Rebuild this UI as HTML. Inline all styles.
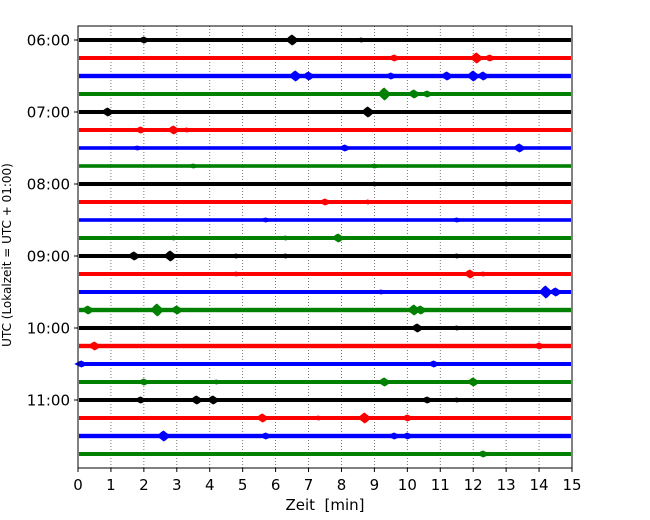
<!DOCTYPE html>
<html><head><meta charset="utf-8"><style>
body{margin:0;background:#fff;}
svg{display:block;font-family:"DejaVu Sans","Liberation Sans",sans-serif;}
</style></head><body>
<svg id="chart" width="650" height="520" viewBox="0 0 650 520">
<rect x="0" y="0" width="650" height="520" fill="#fff"/>
<g id="grid"></g>
<g id="traces"></g>
<rect x="78" y="26" width="494" height="442" fill="none" stroke="#000" stroke-width="1"/>
<g id="xaxis"></g>
<g id="yaxis"></g>
<text x="325" y="510" font-size="15" text-anchor="middle">Zeit&#160; [min]</text>
<text transform="translate(11,255) rotate(-90)" font-size="12" text-anchor="middle">UTC (Lokalzeit = UTC + 01:00)</text>
</svg>
<script>
const xTicks=[0,1,2,3,4,5,6,7,8,9,10,11,12,13,14,15];
const yLabels=["06:00","07:00","08:00","09:00","10:00","11:00"];
const rowColors=["#000000","#ff0000","#0000ff","#008000"];
const rowCount=24;
const noiseHalf=[2,2,2.2,2,2,2,1.8,1.8,2,2,1.8,2,2,2,2,2.2,2,2.2,2,2,2,2,2.2,2];
const eventRow=[0,0,0,1,1,1,2,2,2,2,2,2,3,3,3,4,4,5,5,5,6,6,6,7,7,8,8,9,9,10,10,11,11,11,12,12,12,12,12,13,13,13,14,14,14,15,15,15,15,15,16,16,17,17,18,18,19,19,19,19,20,20,20,20,20,21,21,21,21,22,22,22,22,23];
const eventMin=[2.0,6.5,8.6,9.6,12.1,12.5,6.6,7.0,9.5,11.2,12.0,12.3,9.3,10.2,10.6,0.9,8.8,1.9,2.9,3.3,1.8,8.1,13.4,3.5,9.0,9.0,13.0,7.5,8.8,5.7,11.5,2.9,7.9,6.3,1.7,2.8,4.8,6.3,11.5,4.8,11.9,12.3,9.2,14.2,14.5,0.3,2.4,3.0,10.2,10.4,10.3,11.5,0.5,14.0,0.1,10.8,2.0,4.2,9.3,12.0,1.9,3.6,4.1,10.6,11.5,5.6,7.3,8.7,10.0,2.6,5.7,9.6,10.0,12.3];
const eventAmp=[3,5,2,3,5,3,5,4,3,4,5,4,6,4,3,4,5,3,4,2,2,3,4,2,2,2,2,3,2,2,2,2,4,2,4,5,2,2,2,2,4,2,2,6,4,4,6,4,5,4,4,2,4,3,3,3,3,2,4,4,3,4,4,3,2,4,2,5,3,5,3,3,3,3];
const ns="http://www.w3.org/2000/svg";
const X0=78,X1=572,Ytop=26,Ybot=468,Y0=40,rowH=18;
const xs=m=>X0+(X1-X0)*m/15;
const ys=r=>Y0+r*rowH;
function mk(tag,attrs,parent){const e=document.createElementNS(ns,tag);for(const k in attrs)e.setAttribute(k,attrs[k]);parent.appendChild(e);return e;}
const grid=document.getElementById('grid'),traces=document.getElementById('traces'),xa=document.getElementById('xaxis'),ya=document.getElementById('yaxis');
xTicks.forEach(t=>{
  if(t>0&&t<15){const g=mk('line',{x1:xs(t),x2:xs(t),y1:Ytop,y2:Ybot,stroke:'#555','stroke-width':0.8,'stroke-dasharray':'1,2'},grid);
  
  }
  const tk=mk('line',{x1:xs(t),x2:xs(t),y1:Ybot,y2:Ybot+4,stroke:'#000'},xa);
  
  
  const tl=mk('text',{x:xs(t),y:Ybot+22,'font-size':15,'text-anchor':'middle'},xa);tl.textContent=t;
  
  
});
yLabels.forEach((l,i)=>{
  const y=ys(i*4);
  const tk=mk('line',{x1:X0-4,x2:X0,y1:y,y2:y,stroke:'#000'},ya);
  
  
  const tl=mk('text',{x:X0-8,y:y+5.5,'font-size':15,'text-anchor':'end'},ya);tl.textContent=l;
  
  
});
for(let r=0;r<rowCount;r++){
  const y=ys(r),c=rowColors[r%4],h=noiseHalf[r];
  const tr=mk('rect',{x:X0+1,y:y-h,width:X1-X0-2,height:2*h,fill:c},traces);
  
  
}
eventMin.forEach((m,i)=>{
  const r=eventRow[i],y=ys(r),a=eventAmp[i]+0.5,x=xs(m),c=rowColors[r%4],w=7;
  const p=mk('polygon',{points:`${x-w},${y} ${x-2},${y-a*0.8} ${x},${y-a} ${x+2},${y-a*0.7} ${x+w},${y} ${x+2},${y+a*0.8} ${x},${y+a} ${x-2},${y+a*0.7}`,fill:c},traces);
  
  
});
</script>
</body></html>
